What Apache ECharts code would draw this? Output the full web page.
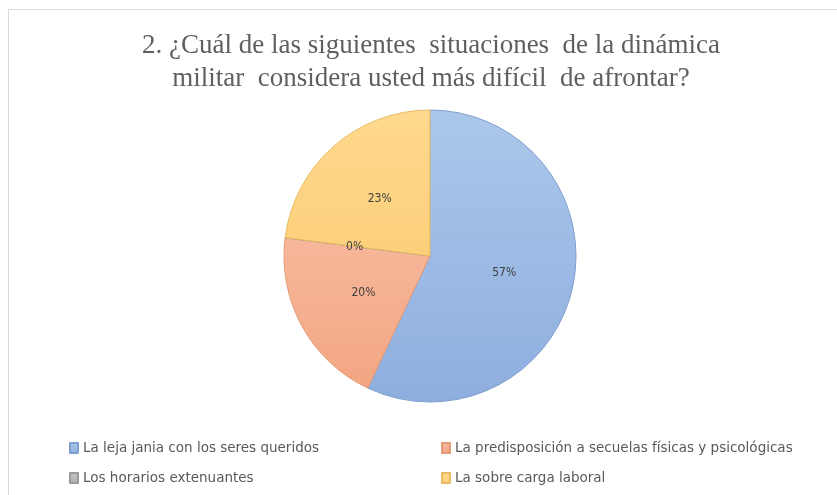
<!DOCTYPE html>
<html>
<head>
<meta charset="utf-8">
<script src="https://cdn.jsdelivr.net/npm/echarts@6/dist/echarts.min.js"></script>
<style>
  html, body { margin: 0; padding: 0; background: #fff; }
  #chart { width: 837px; height: 495px; }
</style>
</head>
<body>
<div id="chart"></div>
<script>
var titleLines = ['2. ¿Cuál de las siguientes  situaciones  de la dinámica', 'militar  considera usted más difícil  de afrontar?'];
var categories = [
    'La leja jania con los seres queridos',
    'La predisposición a secuelas físicas y psicológicas',
    'Los horarios extenuantes',
    'La sobre carga laboral'
];
var percents = [57, 20, 0, 23];
var colorsTop = ['#abc7ea', '#f7b79b', '#c4c4c4', '#ffd98f'];
var colorsBottom = ['#8eaedf', '#f3a682', '#b0b0b0', '#fccf7a'];
var borders = ['#7f9fcf', '#e39a78', '#9a9a9a', '#e8bb62'];

var myChart = echarts.init(document.getElementById('chart'));

var pieData = [];
for (var i = 0; i < categories.length; i++) {
    pieData.push({
        name: categories[i],
        value: percents[i],
        itemStyle: {
            color: new echarts.graphic.LinearGradient(0, 0, 0, 1, [
                {offset: 0, color: colorsTop[i]},
                {offset: 1, color: colorsBottom[i]}
            ]),
            borderColor: borders[i],
            borderWidth: 1
        }
    });
}

var legendText = {color: '#595959', fontSize: 13.5, fontFamily: 'DejaVu Sans'};

var option = {
    backgroundColor: '#fff',
    animation: false,
    color: colorsBottom,
    graphic: [
        // marco gris del gráfico (izquierda y arriba)
        {type: 'line', shape: {x1: 8.5, y1: 9.5, x2: 8.5, y2: 495}, style: {stroke: '#d9d9d9', lineWidth: 1}},
        {type: 'line', shape: {x1: 8.5, y1: 9.5, x2: 837, y2: 9.5}, style: {stroke: '#d9d9d9', lineWidth: 1}},
        {type: 'text', x: 431, y: 46, style: {text: titleLines[0], textAlign: 'center', textVerticalAlign: 'middle', fill: '#5f5f5f', font: '27px "Liberation Serif"'}},
        {type: 'text', x: 431, y: 79, style: {text: titleLines[1], textAlign: 'center', textVerticalAlign: 'middle', fill: '#5f5f5f', font: '27px "Liberation Serif"'}}
    ],
    legend: [{
        orient: 'vertical',
        left: 64,
        top: 436,
        itemWidth: 8,
        itemHeight: 10,
        itemGap: 16,
        icon: 'rect',
        selectedMode: false,
        data: [categories[0], categories[2]],
        textStyle: legendText
    }, {
        orient: 'vertical',
        left: 436,
        top: 436,
        itemWidth: 8,
        itemHeight: 10,
        itemGap: 16,
        icon: 'rect',
        selectedMode: false,
        data: [categories[1], categories[3]],
        textStyle: legendText
    }],
    series: [{
        type: 'pie',
        center: [430, 256],
        radius: 146,
        startAngle: 90,
        clockwise: true,
        label: {
            position: 'inside',
            color: '#404040',
            fontSize: 12,
            fontFamily: 'DejaVu Sans Condensed',
            formatter: function (p) { return p.value + '%'; }
        },
        labelLine: {show: false},
        emphasis: {disabled: true},
        data: pieData
    }]
};

myChart.setOption(option);
</script>
</body>
</html>
